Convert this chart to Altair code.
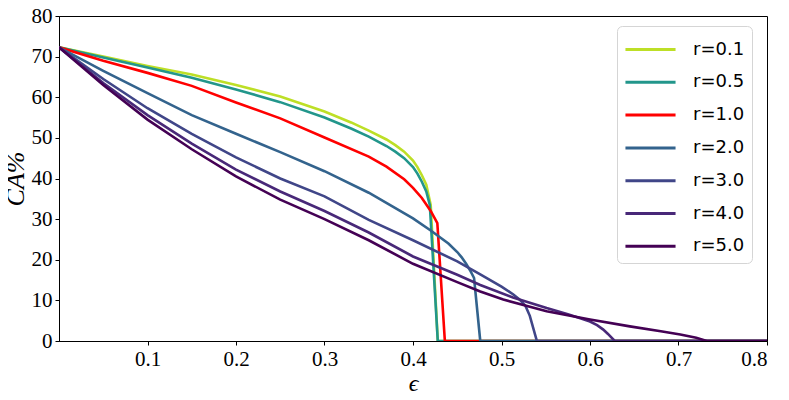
import altair as alt
import pandas as pd

labels = ["r=0.1", "r=0.5", "r=1.0", "r=2.0", "r=3.0", "r=4.0", "r=5.0"]
colors = ["#bddf26", "#22968b", "#ff0000", "#33638d", "#404688", "#482878", "#440154"]

x_r01 = [0, 0.05, 0.1, 0.15, 0.2, 0.25, 0.3, 0.33, 0.35, 0.37, 0.38, 0.39, 0.4, 0.405, 0.41, 0.415, 0.42, 0.428, 0.8]
y_r01 = [72.3, 70.0, 67.7, 65.6, 63.0, 60.2, 56.5, 53.8, 51.8, 49.6, 48.2, 46.6, 44.4, 42.8, 40.8, 38.5, 33.5, 0, 0]

x_r05 = [0, 0.05, 0.1, 0.15, 0.2, 0.25, 0.3, 0.33, 0.35, 0.37, 0.38, 0.39, 0.4, 0.405, 0.41, 0.415, 0.419, 0.428, 0.8]
y_r05 = [72.3, 69.8, 67.3, 64.8, 61.9, 58.8, 55.0, 52.3, 50.3, 48.0, 46.6, 45.0, 42.8, 41.2, 39.2, 36.8, 33.5, 0, 0]

x_r1 = [0, 0.05, 0.1, 0.15, 0.2, 0.25, 0.3, 0.35, 0.37, 0.39, 0.4, 0.41, 0.42, 0.4275, 0.436, 0.8]
y_r1 = [72.3, 69.0, 66.0, 62.8, 58.7, 54.8, 50.1, 45.4, 42.9, 39.8, 37.7, 35.2, 32.0, 29.0, 0, 0]

x_r2 = [0, 0.05, 0.1, 0.15, 0.2, 0.25, 0.3, 0.35, 0.4, 0.42, 0.44, 0.45, 0.455, 0.46, 0.465, 0.469, 0.476, 0.8]
y_r2 = [72.3, 66.5, 61.0, 55.6, 51.0, 46.5, 41.8, 36.5, 30.2, 27.2, 24.0, 21.9, 20.6, 19.0, 17.2, 15.5, 0, 0]

x_r3 = [0, 0.05, 0.1, 0.15, 0.2, 0.25, 0.3, 0.35, 0.4, 0.45, 0.476, 0.5, 0.513, 0.52, 0.527, 0.532, 0.54, 0.8]
y_r3 = [72.3, 64.5, 57.3, 51.0, 45.2, 40.0, 35.6, 29.8, 24.8, 19.6, 16.4, 13.4, 11.5, 10.3, 8.7, 6.2, 0, 0]

x_r4 = [0, 0.05, 0.1, 0.15, 0.2, 0.25, 0.3, 0.35, 0.4, 0.45, 0.476, 0.513, 0.551, 0.575, 0.589, 0.6, 0.608, 0.615, 0.62, 0.628, 0.8]
y_r4 = [72.3, 63.5, 55.6, 48.6, 42.2, 36.8, 32.0, 26.7, 20.8, 16.3, 13.8, 10.7, 8.1, 6.6, 5.6, 4.8, 3.9, 2.8, 1.8, 0, 0]

x_r5 = [0, 0.05, 0.1, 0.15, 0.2, 0.25, 0.3, 0.35, 0.4, 0.45, 0.476, 0.502, 0.551, 0.6, 0.645, 0.68, 0.702, 0.72, 0.732, 0.8]
y_r5 = [72.3, 63.0, 54.5, 47.2, 40.5, 34.8, 30.0, 24.8, 19.0, 14.5, 12.2, 10.2, 7.3, 5.3, 3.6, 2.4, 1.6, 0.8, 0, 0]

xs = [x_r01, x_r05, x_r1, x_r2, x_r3, x_r4, x_r5]
ys = [y_r01, y_r05, y_r1, y_r2, y_r3, y_r4, y_r5]

rows = []
for lab, xv, yv in zip(labels, xs, ys):
    for i, (a, b) in enumerate(zip(xv, yv)):
        rows.append({"series": lab, "eps": a, "ca": b, "i": i})
df = pd.DataFrame(rows)

x_ticks = [0.1, 0.2, 0.3, 0.4, 0.5, 0.6, 0.7, 0.8]
y_ticks = [0, 10, 20, 30, 40, 50, 60, 70, 80]

serif = "Liberation Serif"

chart = alt.Chart(df).mark_line(strokeWidth=2.6, clip=True).encode(
    x=alt.X("eps:Q", scale=alt.Scale(domain=[0, 0.8], nice=False),
            axis=alt.Axis(values=x_ticks, format=".1f", title="ϵ",
                          titleFontStyle="italic", titleFontSize=24)),
    y=alt.Y("ca:Q", scale=alt.Scale(domain=[0, 80], nice=False),
            axis=alt.Axis(values=y_ticks, title="CA%", titleFontStyle="italic",
                          titleFontSize=26)),
    color=alt.Color("series:N", scale=alt.Scale(domain=labels, range=colors),
                    legend=alt.Legend(title=None, orient="none", legendX=558, legendY=10,
                                      symbolType="M-1.67,0L1.67,0", symbolSize=900,
                                      symbolStrokeWidth=3, symbolOffset=10,
                                      labelFontSize=18, labelFont="DejaVu Sans",
                                      labelColor="black",
                                      rowPadding=6.8, labelOffset=26, padding=7,
                                      fillColor="white", strokeColor="#d5d5d5",
                                      cornerRadius=5)),
    order="i:Q",
).properties(
    width=708, height=325,
    autosize=alt.AutoSizeParams(type="none"),
    padding={"left": 51, "top": 8, "right": 14, "bottom": 60},
).configure_view(
    stroke="black", strokeWidth=1
).configure_axis(
    grid=False, domainColor="black", tickColor="black", tickSize=4,
    labelFont=serif, labelFontSize=21, labelColor="black", labelPadding=3,
    titleFont=serif, titleColor="black", titleFontWeight="normal",
).configure_axisY(titlePadding=3).configure_axisX(titlePadding=2)

chart.save("out.html", embed_options={"renderer": "svg", "actions": False})
